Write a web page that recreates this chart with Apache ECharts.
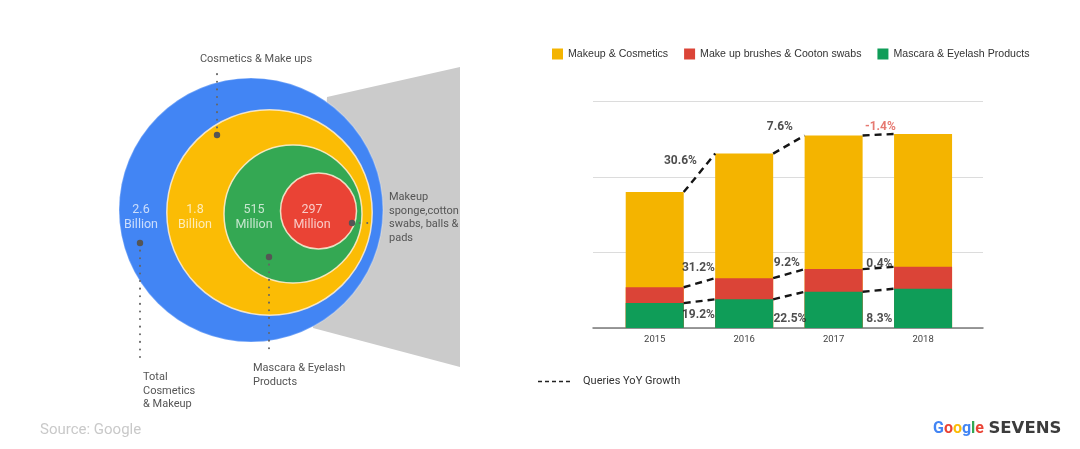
<!DOCTYPE html>
<html><head><meta charset="utf-8">
<script src="https://cdn.jsdelivr.net/npm/echarts@6/dist/echarts.min.js"></script>
<style>html,body{margin:0;padding:0;background:#fff}#c{width:1080px;height:449px}</style>
</head><body><div id="c"></div>
<script>
// ---------- data ----------
const years = ['2015', '2016', '2017', '2018'];
const seriesNames = ['Makeup & Cosmetics', 'Make up brushes & Cooton swabs', 'Mascara & Eyelash Products'];
const makeupCosmetics = [126, 165, 177, 176];
const brushesSwabs = [21, 28, 30, 29];
const mascaraEyelash = [33, 38, 48, 52];
const growthTotal = ['30.6%', '7.6%', '-1.4%'];
const growthBrushes = ['31.2%', '9.2%', '0.4%'];
const growthMascara = ['19.2%', '22.5%', '8.3%'];
const growthName = 'Queries YoY Growth';
const marketValues = ['2.6\nBillion', '1.8\nBillion', '515\nMillion', '297\nMillion'];
const marketNames = ['Total\nCosmetics\n& Makeup', 'Cosmetics & Make ups', 'Mascara & Eyelash\nProducts', 'Makeup\nsponge,cotton\nswabs, balls &\npads'];

// ---------- layout (diagram geometry / label nudges, not data) ----------
const circleLayout = [ // cx, cy, r, labelX, labelY
  [251, 210, 132, 141, 217],
  [269.5, 212.5, 102.7, 195, 217],
  [293, 214, 69, 254, 217],
  [318.5, 211, 38, 312, 217]
];
const circleColors = ['#4285f4', '#fbbc05', '#34a853', '#ea4335'];
const annotationLayout = [ // dotX, dotY, endX, endY, textX, textY
  [140, 243, 140, 362, 143, 377],
  [217, 135, 217, 68, 256, 59],
  [269, 257, 269, 352, 253, 368],
  [352, 223, 370, 223, 389, 197]
];
const annotationAlign = ['left', 'center', 'left', 'left'];
const fanLayout = [[327, 97], [460, 67], [460, 367], [313, 328]];
const barColors = ['#f4b400', '#db4437', '#0f9d58'];
const HW = 0.324; // half bar width in category units
const offsTotal = [[-19, -12], [-9, -18], [2, -8]];
const offsRed = [[-1, -15], [-2, -11], [1, -4]];
const offsGreen = [[-1, -13], [1, -9], [1, -9]];

// ---------- derived (cumulative stack tops) ----------
const topGreen = mascaraEyelash.slice();
const topRed = mascaraEyelash.map((v, i) => v + brushesSwabs[i]);
const topTotal = topRed.map((v, i) => v + makeupCosmetics[i]);

function segData(tops) {
  const out = [];
  for (let i = 0; i < tops.length - 1; i++) {
    out.push([i + HW, tops[i]]);
    out.push([i + 1 - HW, tops[i + 1]]);
    out.push([i + 0.5, null]);
  }
  return out;
}
function labelData(tops, texts, offs, anchorZero) {
  return texts.map((t, i) => ({ name: t, value: [i + 0.5, anchorZero ? 0 : (tops[i] + tops[i + 1]) / 2],
    label: { offset: offs[i] } }));
}

const FONT = 'Roboto, "Liberation Sans", Arial, sans-serif';
const dashStyle = { color: '#151515', width: 2.4, type: [7, 5] };
const dashIcon = 'path://M0,0h4v1.5h-4z M7,0h4v1.5h-4z M14,0h4v1.5h-4z M21,0h4v1.5h-4z M28,0h4v1.5h-4z';

const chart = echarts.init(document.getElementById('c'));

const lblBase = { show: true, position: 'inside', formatter: '{b}', fontSize: 12, fontWeight: 'bold', color: '#222', fontFamily: FONT };

const option = {
  animation: false,
  backgroundColor: '#fff',
  textStyle: { fontFamily: FONT },
  title: [
    { text: 'Source: Google', left: 40, top: 423, padding: 0,
      textStyle: { fontSize: 15, fontWeight: 'normal', color: '#c9c9c9', fontFamily: FONT } },
    { text: '{b|G}{r|o}{y|o}{b|g}{g|l}{r|e} {s|SEVENS}', left: 933, top: 420, padding: 0,
      textStyle: { rich: {
        b: { color: '#4285f4', fontSize: 16, fontFamily: FONT },
        r: { color: '#ea4335', fontSize: 16, fontFamily: FONT },
        y: { color: '#fbbc05', fontSize: 16, fontFamily: FONT },
        g: { color: '#34a853', fontSize: 16, fontFamily: FONT },
        s: { color: '#3c3c3c', fontSize: 16.5, fontWeight: 'bold', fontFamily: '"DejaVu Sans", sans-serif' }
      } } }
  ],
  legend: [
    { data: seriesNames, left: 552, top: 48.5, padding: 0, icon: 'rect', itemWidth: 11, itemHeight: 11, itemGap: 16,
      textStyle: { fontSize: 10.6, color: '#333', fontFamily: '"Liberation Sans", Arial, sans-serif' }, selectedMode: false },
    { data: [{ name: growthName, icon: dashIcon }], left: 538, top: 376, padding: 0, itemWidth: 32, itemHeight: 1.5, selectedMode: false,
      itemStyle: { color: '#222' },
      textStyle: { fontSize: 11, color: '#333', fontFamily: FONT, padding: [0, 0, 0, 8] } }
  ],
  grid: [
    { left: 0, top: 0, width: 540, height: 449 },
    { left: 593, top: 101.5, width: 390, height: 226.5 }
  ],
  xAxis: [
    { gridIndex: 0, type: 'value', min: 0, max: 540, show: false },
    { gridIndex: 1, type: 'value', min: -0.69, max: 3.67,
      axisLine: { show: true, onZero: false, lineStyle: { color: '#7a7a7a', width: 1.5 } },
      axisTick: { show: false }, splitLine: { show: false },
      axisLabel: { customValues: [0, 1, 2, 3], formatter: v => years[Math.round(v)], color: '#444', fontSize: 9.5, margin: 7, fontFamily: FONT } }
  ],
  yAxis: [
    { gridIndex: 0, type: 'value', min: 0, max: 449, inverse: true, show: false },
    { gridIndex: 1, type: 'value', min: 0, max: 300, interval: 100,
      axisLine: { show: false }, axisTick: { show: false }, axisLabel: { show: false },
      splitLine: { lineStyle: { color: '#dcdcdc', width: 1 } } }
  ],
  series: [
    // grey fan behind circles
    { type: 'custom', xAxisIndex: 0, yAxisIndex: 0, silent: true, z: 1,
      data: [[0, 0]],
      renderItem: (params, api) => ({
        type: 'polygon',
        shape: { points: fanLayout.map(p => api.coord(p)) },
        style: { fill: '#cbcbcb' }
      }) },
    // nested circles
    { type: 'custom', xAxisIndex: 0, yAxisIndex: 0, silent: true, z: 2,
      data: circleLayout,
      renderItem: (params, api) => {
        const i = params.dataIndex;
        const c = api.coord([api.value(0), api.value(1)]);
        const r = api.size([api.value(2), 0])[0];
        const lp = api.coord([api.value(3), api.value(4)]);
        return { type: 'group', children: [
          { type: 'circle', shape: { cx: c[0], cy: c[1], r: r },
            style: { fill: circleColors[i], stroke: i === 0 ? 'rgba(255,255,255,0.25)' : 'rgba(255,240,215,0.85)', lineWidth: 1.5 } },
          { type: 'text', x: lp[0], y: lp[1],
            style: { text: marketValues[i], fill: 'rgba(255,255,255,0.72)', fontSize: 12.5, fontFamily: FONT,
              align: 'center', verticalAlign: 'middle', lineHeight: 15 } }
        ] };
      } },
    // annotations
    { type: 'custom', xAxisIndex: 0, yAxisIndex: 0, silent: true, z: 3,
      data: annotationLayout,
      renderItem: (params, api) => {
        const i = params.dataIndex;
        const d = api.coord([api.value(0), api.value(1)]);
        const e = api.coord([api.value(2), api.value(3)]);
        const t = api.coord([api.value(4), api.value(5)]);
        const lh = 13.8;
        return { type: 'group', children: [
          { type: 'line', shape: { x1: d[0], y1: d[1], x2: e[0], y2: e[1] },
            style: { stroke: '#666', lineWidth: 2, lineDash: [0.1, 7.5], lineCap: 'round' } },
          { type: 'circle', shape: { cx: d[0], cy: d[1], r: 3.2 }, style: { fill: '#555' } },
          { type: 'text', x: t[0], y: t[1] - lh / 2,
            style: { text: marketNames[i], fill: '#555', fontSize: 11, fontFamily: FONT,
              align: annotationAlign[i], verticalAlign: 'top', lineHeight: lh } }
        ] };
      } },
    // bars (cumulative tops, overlapped so they read as a stack)
    { name: seriesNames[0], type: 'bar', xAxisIndex: 1, yAxisIndex: 1, barWidth: 58, barGap: '-100%',
      itemStyle: { color: barColors[0] }, data: topTotal.map((v, i) => [i, v]) },
    { name: seriesNames[1], type: 'bar', xAxisIndex: 1, yAxisIndex: 1, barWidth: 58, barGap: '-100%',
      itemStyle: { color: barColors[1] }, data: topRed.map((v, i) => [i, v]) },
    { name: seriesNames[2], type: 'bar', xAxisIndex: 1, yAxisIndex: 1, barWidth: 58, barGap: '-100%',
      itemStyle: { color: barColors[2] }, data: topGreen.map((v, i) => [i, v]) },
    // growth dashed connectors
    { name: growthName, type: 'line', xAxisIndex: 1, yAxisIndex: 1, symbol: 'none', z: 5,
      itemStyle: { color: '#151515' }, connectNulls: false, lineStyle: dashStyle, data: segData(topTotal) },
    { name: growthName, type: 'line', xAxisIndex: 1, yAxisIndex: 1, symbol: 'none', z: 5,
      itemStyle: { color: '#151515' }, connectNulls: false, lineStyle: dashStyle, data: segData(topRed) },
    { name: growthName, type: 'line', xAxisIndex: 1, yAxisIndex: 1, symbol: 'none', z: 5,
      itemStyle: { color: '#151515' }, connectNulls: false, lineStyle: dashStyle, data: segData(topGreen) },
    // growth labels
    { name: 'lblTotal', type: 'scatter', xAxisIndex: 1, yAxisIndex: 1, symbolSize: 1, z: 6,
      itemStyle: { color: 'rgba(0,0,0,0)' }, label: lblBase,
      data: labelData(topTotal, growthTotal, offsTotal).map((d, i) => { if (i === 2) d.label.color = '#e0574d'; return d; }) },
    { name: 'lblRed', type: 'scatter', xAxisIndex: 1, yAxisIndex: 1, symbolSize: 1, z: 6,
      itemStyle: { color: 'rgba(0,0,0,0)' }, label: lblBase,
      data: labelData(topRed, growthBrushes, offsRed) },
    { name: 'lblGreen', type: 'scatter', xAxisIndex: 1, yAxisIndex: 1, symbolSize: 1, z: 6,
      itemStyle: { color: 'rgba(0,0,0,0)' }, label: lblBase,
      data: labelData(topGreen, growthMascara, offsGreen, true) }
  ]
};
chart.setOption(option);
</script></body></html>
